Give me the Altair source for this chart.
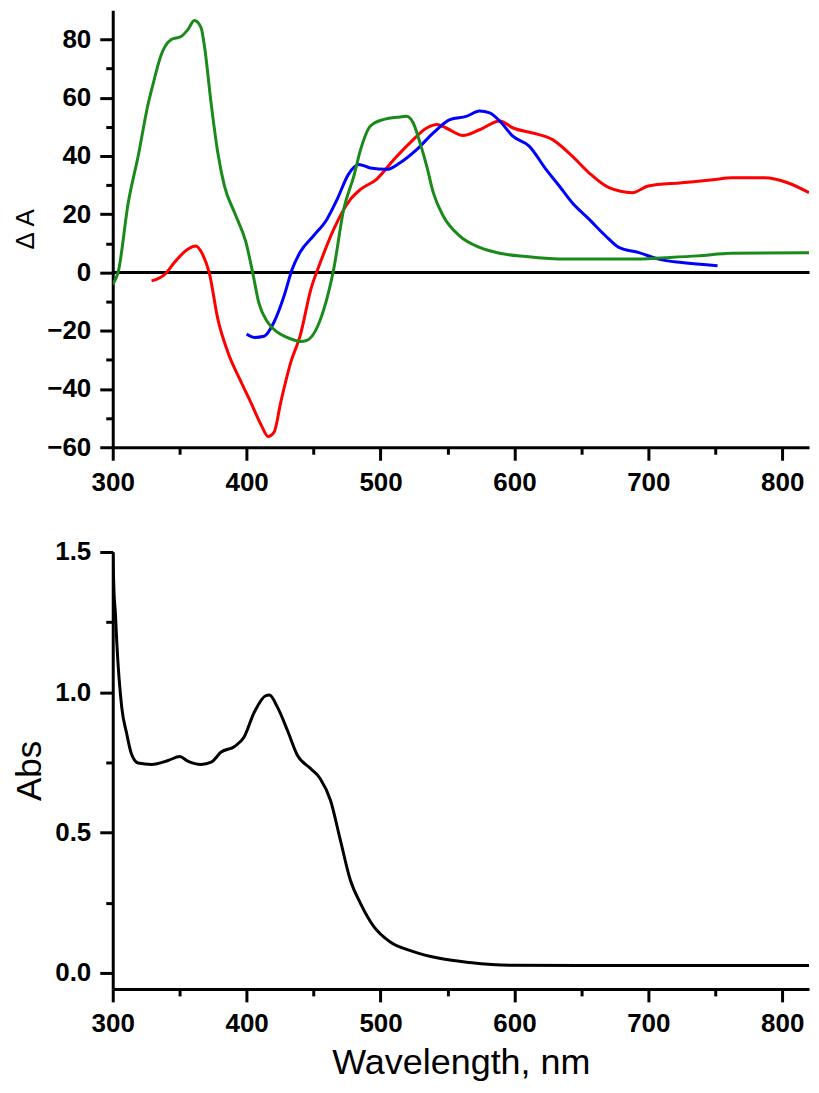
import altair as alt
import pandas as pd

# ---------------- data ----------------
red_wl = [329, 339, 346, 356, 362, 367, 372, 378.5, 386, 396, 403, 411, 416, 420.5, 425.5,
          433, 440, 448, 455, 465, 477.5, 485, 497, 510, 522, 534.5, 542, 549, 561.6, 574,
          589, 599, 613.6, 628.5, 643, 655.7, 670.6, 688, 700, 725, 750, 762, 787, 804, 820]
red_dA = [-2.9, -0.6, 3.4, 8, 9.1, 6.3, 0, -16, -27.4, -37.7, -44.5, -52.5, -56.3, -54.8, -44.5,
          -30.8, -21.7, -5.7, 3.4, 14.8, 25.1, 28.5, 32, 38.8, 44.5, 49.6, 50.8, 49.6, 47, 49,
          52, 49.6, 47.9, 45.6, 40, 34.2, 29.1, 27.4, 29.7, 30.8, 31.9, 32.5, 32.5, 30.8, 27.4]

blue_wl = [400, 406, 413, 420.5, 428, 434, 440, 450, 460, 467.6, 476, 483.7, 492.3, 504.7,
           514.6, 527, 539.4, 551.8, 564, 574, 581.5, 589, 598.8, 611, 623.6, 633.5, 643,
           655.7, 668, 678, 693, 707.7, 725, 751.7]
blue_dA = [-21.1, -22.3, -21.9, -17, -8, 1.1, 7, 12.6, 18.3, 25.1, 33.7, 37.1, 35.9, 35.4,
           37.7, 42.2, 47.9, 52.5, 53.6, 55.4, 54.8, 52, 46.8, 43.4, 35.4, 29.7, 24,
           18.3, 12.6, 8.6, 6.8, 4.6, 3.4, 2.3]

green_wl = [300, 304, 311.6, 319, 326.5, 330, 336.4, 343.8, 351, 356, 361, 366, 368.5, 373.5,
            378.5, 383.4, 391, 399.5, 404.5, 409, 415.6, 423, 433, 440, 445, 457.7, 465, 472.5,
            480, 485, 492.3, 502, 514.6, 519.5, 524.4, 529.5, 534.5, 539.4, 546.8, 559, 574,
            589, 608.7, 638.4, 688, 712.6, 737, 762, 820]
green_dA = [-4.1, 0, 24, 40, 58, 64.5, 75, 80, 81, 83.3, 86.5, 84, 77.7, 58,
            41, 29.7, 20.5, 10.3, 0, -10.3, -17, -20.5, -22.8, -23.7, -23.3, -12.6, 1.1, 21.7,
            33, 42, 50.2, 52.5, 53.4, 53.6, 51.3, 44.5, 36.5, 27.4, 19.4, 12.6, 8.6,
            6.6, 5.5, 4.6, 4.6, 5.1, 5.7, 6.6, 6.8]

abs_wl = [300, 301, 302, 303, 306.7, 310.4, 314, 319, 329, 341.4, 350, 356, 366, 373.5, 381,
          391, 398, 405.7, 414.4, 417, 423, 430.5, 438, 447.8, 455, 462.6, 470, 477.5, 485,
          495, 507, 524.5, 544, 566.6, 597.6, 650, 700, 750, 820]
abs_val = [1.5, 1.35, 1.28, 1.18, 0.947, 0.853, 0.78, 0.748, 0.743, 0.757, 0.771, 0.755, 0.743,
           0.751, 0.787, 0.807, 0.84, 0.929, 0.988, 0.99, 0.947, 0.864, 0.775, 0.728, 0.692,
           0.615, 0.473, 0.33, 0.248, 0.165, 0.111, 0.076, 0.052, 0.037, 0.027, 0.026, 0.026,
           0.026, 0.026]

series_names = ["red", "blue", "green"]
series_colors = ["#ff0000", "#0000ff", "#1a8a1a"]

x_major = [300, 400, 500, 600, 700, 800]
x_minor = [350, 450, 550, 650, 750]
top_y_major = [-60, -40, -20, 0, 20, 40, 60, 80]
top_y_minor = [-50, -30, -10, 10, 30, 50, 70]
abs_y_major = [0.0, 0.5, 1.0, 1.5]
abs_y_minor = [0.25, 0.75, 1.25]

# ---------------- tables ----------------
rows = []
for name, wls, vals in [("red", red_wl, red_dA), ("blue", blue_wl, blue_dA),
                        ("green", green_wl, green_dA)]:
    for w, v in zip(wls, vals):
        rows.append({"series": name, "wl": w, "dA": v})
top_df = pd.DataFrame(rows)
abs_df = pd.DataFrame({"wl": abs_wl, "absv": abs_val})

FONT = "Liberation Sans"
W, H = 698, 438
LW = 3


def major_axis(values, orient, title=None, fmt=None, title_size=25, title_pad=10):
    kw = dict(values=values, orient=orient, grid=False, domainColor="black", domainWidth=LW,
              tickColor="black", tickWidth=LW, tickSize=13, labelFont=FONT, labelFontSize=26,
              labelFontWeight="bold", labelColor="black", labelPadding=9, labelFlush=False,
              labelOverlap=False, titleFont=FONT, titleFontSize=title_size,
              titleFontWeight="normal", titleColor="black", titlePadding=title_pad)
    if fmt:
        kw["format"] = fmt
    if title:
        kw["title"] = title
    else:
        kw["title"] = None
    return alt.Axis(**kw)


def minor_axis(values, orient):
    return alt.Axis(values=values, orient=orient, grid=False, domain=False, labels=False,
                    tickColor="black", tickWidth=LW, tickSize=7, title=None)


x_scale = alt.Scale(domain=[300, 820], nice=False, zero=False)
top_y_scale = alt.Scale(domain=[-60, 90], nice=False, zero=False)
abs_y_scale = alt.Scale(domain=[-0.057, 1.5], nice=False, zero=False)
color_scale = alt.Scale(domain=series_names, range=series_colors)

# ---------------- top panel ----------------
top_lines = alt.Chart(top_df).mark_line(strokeWidth=LW, interpolate="monotone", clip=True).encode(
    x=alt.X("wl:Q", scale=x_scale, axis=major_axis(x_major, "bottom")),
    y=alt.Y("dA:Q", scale=top_y_scale,
            axis=major_axis(top_y_major, "left", title="Δ A", title_size=26, title_pad=8)),
    color=alt.Color("series:N", scale=color_scale, legend=None),
)
top_minor = alt.Chart(top_df).mark_line(strokeOpacity=0).encode(
    x=alt.X("wl:Q", scale=x_scale, axis=minor_axis(x_minor, "bottom")),
    y=alt.Y("dA:Q", scale=top_y_scale, axis=minor_axis(top_y_minor, "left")),
    detail="series:N",
)
zero_rule = alt.Chart(top_df).mark_rule(color="black", strokeWidth=LW).encode(
    y=alt.Y(datum=0, axis=None)
)
top = alt.layer(zero_rule, top_minor, top_lines).resolve_axis(
    x="independent", y="independent"
).properties(width=W, height=H)

# ---------------- bottom panel ----------------
abs_line = alt.Chart(abs_df).mark_line(strokeWidth=LW, color="black", interpolate="monotone",
                                       clip=True).encode(
    x=alt.X("wl:Q", scale=x_scale,
            axis=major_axis(x_major, "bottom", title="Wavelength, nm", title_size=36, title_pad=9)),
    y=alt.Y("absv:Q", scale=abs_y_scale,
            axis=major_axis(abs_y_major, "left", title="Abs", fmt=".1f", title_size=35, title_pad=7)),
)
abs_minor = alt.Chart(abs_df).mark_line(strokeOpacity=0).encode(
    x=alt.X("wl:Q", scale=x_scale, axis=minor_axis(x_minor, "bottom")),
    y=alt.Y("absv:Q", scale=abs_y_scale, axis=minor_axis(abs_y_minor, "left")),
)
bottom = alt.layer(abs_minor, abs_line).resolve_axis(
    x="independent", y="independent"
).properties(width=W, height=H)

chart = alt.vconcat(top, bottom, spacing=105, bounds="flush").properties(
    padding={"left": 4, "top": 0, "right": 0, "bottom": 0}
).configure_view(stroke="transparent")

chart.save("out.html", embed_options={"renderer": "svg", "actions": False})
